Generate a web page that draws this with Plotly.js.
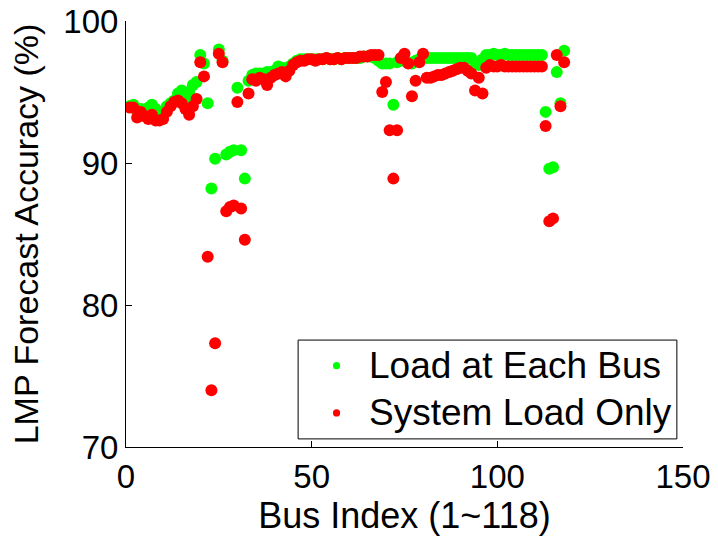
<!DOCTYPE html>
<html>
<head>
<meta charset="utf-8">
<script src="https://cdn.plot.ly/plotly-3.0.1.min.js"></script>
<style>
  html, body { margin: 0; padding: 0; background: #fff; }
  #chart { width: 718px; height: 537px; }
</style>
</head>
<body>
<div id="chart"></div>
<script>
// LMP forecast accuracy (%) per bus of the IEEE 118-bus system
const seriesNames = ['Load at Each Bus', 'System Load Only'];

const loadEachBus = [
  94.0, 94.1, 93.6, 93.8, 93.7, 93.9, 94.1, 93.8, 93.5, 93.6,
  94.0, 94.2, 94.4, 94.9, 95.1, 94.5, 95.0, 95.5, 95.7, 97.6,
  97.0, 94.2, 88.2, 90.3, 98.0, 97.2, 90.6, 90.8, 90.9, 95.3,
  90.9, 88.9, 95.8, 96.2, 96.3, 96.3, 96.3, 96.4, 96.4, 96.5,
  96.8, 96.7, 96.6, 96.8, 97.0, 97.2, 97.3, 97.3, 97.3, 97.3,
  97.3, 97.3, 97.3, 97.4, 97.3, 97.3, 97.4, 97.3, 97.4, 97.4,
  97.4, 97.4, 97.4, 97.5, 97.5, 97.5, 97.4, 97.2, 97.0, 97.0,
  97.0, 94.1, 97.1, 97.2, 97.3, 97.1, 97.0, 97.2, 97.3, 97.4,
  97.4, 97.4, 97.4, 97.4, 97.4, 97.4, 97.4, 97.4, 97.4, 97.4,
  97.4, 97.4, 97.4, 97.0, 96.9, 97.3, 97.6, 97.6, 97.7, 97.6,
  97.6, 97.7, 97.6, 97.6, 97.6, 97.6, 97.6, 97.6, 97.6, 97.6,
  97.6, 97.6, 93.6, 89.6, 89.7, 96.4, 94.2, 97.9
];

const systemLoadOnly = [
  93.9, 93.9, 93.2, 93.6, 93.3, 93.1, 93.4, 93.0, 93.0, 93.1,
  93.6, 94.0, 94.3, 94.4, 94.2, 93.8, 93.4, 94.0, 94.5, 97.1,
  96.1, 83.4, 74.0, 77.3, 97.7, 97.1, 86.6, 86.9, 87.0, 94.3,
  86.8, 84.6, 94.9, 95.9, 95.8, 96.0, 95.9, 95.5, 96.0, 96.2,
  96.3, 96.4, 96.1, 96.5, 96.9, 97.1, 97.2, 97.2, 97.3, 97.3,
  97.2, 97.3, 97.3, 97.4, 97.3, 97.3, 97.4, 97.3, 97.4, 97.4,
  97.4, 97.4, 97.5, 97.5, 97.5, 97.6, 97.6, 97.6, 95.0, 95.7,
  92.3, 88.9, 92.3, 97.4, 97.7, 97.0, 94.7, 95.8, 97.1, 97.7,
  96.0, 96.0, 96.1, 96.2, 96.2, 96.3, 96.4, 96.5, 96.6, 96.7,
  96.7, 96.5, 96.3, 95.1, 96.0, 94.9, 96.7, 96.9, 96.8, 96.8,
  96.9, 96.8, 96.8, 96.8, 96.8, 96.8, 96.8, 96.8, 96.8, 96.8,
  96.8, 96.8, 92.6, 85.9, 86.1, 97.6, 94.0, 97.1
];

const busIndex = loadEachBus.map((_, i) => i + 1);

const xTicks = [0, 50, 100, 150];
const yTicks = [70, 80, 90, 100];

const colors = ['#00ff00', '#ff0000'];
const FONT = '"Liberation Sans", Arial, Helvetica, sans-serif';

const traces = [loadEachBus, systemLoadOnly].map((vals, k) => ({
  type: 'scatter',
  mode: 'markers',
  x: busIndex,
  y: vals,
  name: seriesNames[k],
  showlegend: false,
  marker: { color: colors[k], size: 12, line: { width: 0 } },
  hoverinfo: 'x+y'
}));

// Legend box drawn in paper coordinates (plot area is 557 x 426 px)
const PW = 557, PH = 426;
const legBox = { x0: 0.309, x1: 0.989, y0: 0.019, y1: 0.251 };
const legSymX = 0.378, legTextX = 0.433;
const legRowY = [0.191, 0.080];
const symR = 3.6;

const shapes = [{
  type: 'rect', xref: 'paper', yref: 'paper',
  x0: legBox.x0, x1: legBox.x1, y0: legBox.y0, y1: legBox.y1,
  line: { color: '#000000', width: 1 }, fillcolor: '#ffffff', layer: 'above'
}];
const annotations = [];
seriesNames.forEach((name, k) => {
  shapes.push({
    type: 'circle', xref: 'paper', yref: 'paper',
    x0: legSymX - symR / PW, x1: legSymX + symR / PW,
    y0: legRowY[k] - symR / PH, y1: legRowY[k] + symR / PH,
    line: { width: 0 }, fillcolor: colors[k], layer: 'above'
  });
  annotations.push({
    xref: 'paper', yref: 'paper',
    x: legTextX, y: legRowY[k],
    xanchor: 'left', yanchor: 'middle',
    text: name, showarrow: false,
    font: { family: FONT, size: 37, color: '#000000' }
  });
});

const layout = {
  width: 718,
  height: 537,
  margin: { l: 126, r: 35, t: 21, b: 90 },
  paper_bgcolor: '#ffffff',
  plot_bgcolor: '#ffffff',
  font: { family: FONT, color: '#000000', size: 33 },
  showlegend: false,
  shapes: shapes,
  annotations: annotations,
  xaxis: {
    range: [0, 150],
    tickvals: xTicks,
    ticktext: xTicks.map(String),
    ticks: 'inside',
    ticklen: 6,
    tickcolor: '#000000',
    showline: true,
    linecolor: '#000000',
    linewidth: 1,
    mirror: false,
    showgrid: false,
    zeroline: false,
    tickfont: { family: FONT, size: 33 },
    title: { text: 'Bus Index (1~118)', font: { family: FONT, size: 36 }, standoff: 1 }
  },
  yaxis: {
    range: [70, 100],
    tickvals: yTicks,
    ticktext: yTicks.map(String),
    ticks: 'inside',
    ticklen: 6,
    tickcolor: '#000000',
    showline: true,
    linecolor: '#000000',
    linewidth: 1,
    mirror: false,
    showgrid: false,
    zeroline: false,
    tickfont: { family: FONT, size: 33 },
    title: { text: 'LMP Forecast Accuracy (%)', font: { family: FONT, size: 34 }, standoff: 14 }
  }
};

Plotly.newPlot('chart', traces, layout, { displayModeBar: false, staticPlot: true });
</script>
</body>
</html>
